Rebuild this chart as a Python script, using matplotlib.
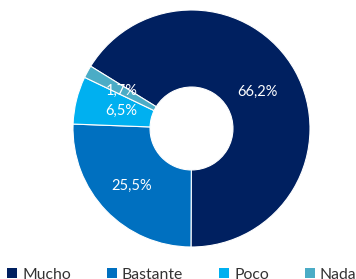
import matplotlib
matplotlib.use("Agg")
import matplotlib.pyplot as plt
from matplotlib.patches import Patch
import numpy as np

categories = ["Mucho", "Bastante", "Poco", "Nada"]
values = [66.2, 25.5, 6.5, 1.7]
labels = ["66,2%", "25,5%", "6,5%", "1,7%"]
colors = ["#002060", "#0070C0", "#00B0F0", "#4BACC6"]

plt.rcParams['font.family'] = ['Lato', 'DejaVu Sans']

fig = plt.figure(figsize=(3.56, 2.79), dpi=100)
ax = fig.add_axes([73/356, 32/279, 237/356, 237/279])

wedges, _ = ax.pie(values, colors=colors, startangle=148.3, counterclock=False,
                   radius=1.0, wedgeprops=dict(width=0.65, edgecolor="white", linewidth=0.8))
ax.set_xlim(-1, 1)
ax.set_ylim(-1, 1)
ax.set_aspect("equal")
ax.axis("off")

total = sum(values)
ang = 148.3
radii = [0.64, 0.70, 0.61, 0.67]
for v, lab, r in zip(values, labels, radii):
    span = 360 * v / total
    mid = np.deg2rad(ang - span / 2)
    ax.text(r * np.cos(mid), r * np.sin(mid), lab, ha="center", va="center",
            color="white", fontsize=10.5)
    ang -= span

handles = [Patch(facecolor=c, edgecolor="none") for c in colors]
fig.legend(handles, categories, loc="center left", bbox_to_anchor=(0.02, 0.016),
           ncol=4, frameon=False, fontsize=11.3, handlelength=0.65, handleheight=0.65,
           handletextpad=0.3, columnspacing=2.3, borderpad=0, borderaxespad=0,
           labelcolor="#333333")

fig.savefig("out.png", dpi=100)
